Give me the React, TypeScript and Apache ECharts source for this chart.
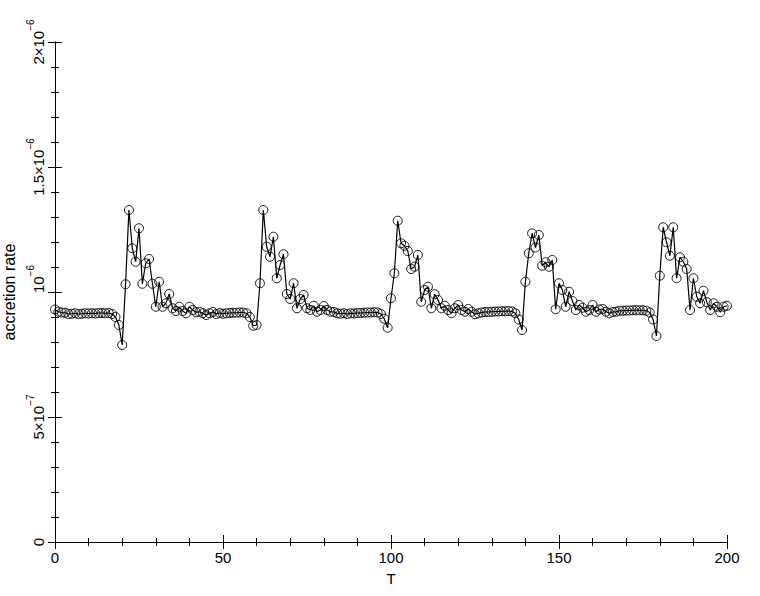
import React, { useEffect, useRef } from "react";
import * as echarts from "echarts";

// accretion rate in units of 1e-6, sampled at T = 0, 1, 2, ... 200
const T_START = 0;
const T_STEP = 1;
const rate: number[] = [
  0.930, 0.921, 0.918, 0.917, 0.912, 0.913, 0.915, 0.912, 0.913, 0.915, 0.914, 0.915, 0.914, 0.916, 0.916, 0.915, 0.916, 0.912, 0.900, 0.868, 0.788,
  1.031, 1.328, 1.175, 1.121, 1.255, 1.033, 1.115, 1.132, 1.033, 0.941, 1.041, 0.941, 0.955, 0.992, 0.935, 0.924, 0.941, 0.924, 0.915, 0.941,
  0.928, 0.919, 0.921, 0.915, 0.908, 0.915, 0.920, 0.912, 0.916, 0.913, 0.915, 0.916, 0.917, 0.917, 0.918, 0.918, 0.915, 0.900, 0.865, 0.868,
  1.035, 1.328, 1.181, 1.141, 1.221, 1.055, 1.108, 1.151, 0.992, 0.972, 1.035, 0.935, 0.972, 0.988, 0.935, 0.928, 0.945, 0.921, 0.928, 0.944,
  0.928, 0.921, 0.920, 0.915, 0.913, 0.915, 0.912, 0.915, 0.914, 0.916, 0.916, 0.917, 0.918, 0.918, 0.919, 0.918, 0.912, 0.893, 0.857, 0.975,
  1.075, 1.285, 1.195, 1.185, 1.164, 1.092, 1.101, 1.148, 0.961, 1.008, 1.021, 0.935, 0.991, 0.968, 0.935, 0.945, 0.928, 0.915, 0.935, 0.948,
  0.928, 0.921, 0.932, 0.921, 0.911, 0.915, 0.918, 0.920, 0.920, 0.921, 0.922, 0.922, 0.923, 0.923, 0.924, 0.922, 0.915, 0.890, 0.848, 1.041,
  1.155, 1.235, 1.178, 1.228, 1.105, 1.119, 1.101, 1.128, 0.931, 1.035, 1.008, 0.941, 1.001, 0.964, 0.928, 0.948, 0.937, 0.921, 0.928, 0.948,
  0.921, 0.930, 0.932, 0.921, 0.915, 0.920, 0.921, 0.925, 0.925, 0.926, 0.926, 0.927, 0.927, 0.927, 0.927, 0.925, 0.918, 0.890, 0.824, 1.065,
  1.259, 1.199, 1.145, 1.259, 1.055, 1.139, 1.121, 1.092, 0.928, 1.055, 0.981, 0.955, 1.005, 0.959, 0.928, 0.955, 0.941, 0.919, 0.941, 0.945,
];

// y tick labels (value in 1e-6 units -> [mantissa, exponent])
const yTickValues = [0, 0.5, 1, 1.5, 2];
const yTickLabels: [string, string][] = [
  ["0", ""],
  ["5×10", "−7"],
  ["10", "−6"],
  ["1.5×10", "−6"],
  ["2×10", "−6"],
];

const FONT = "Liberation Sans, Arial, Helvetica, sans-serif";

export default function App() {
  const ref = useRef<HTMLDivElement>(null);
  useEffect(() => {
    if (!ref.current) return;
    const chart = echarts.init(ref.current, null, { renderer: "svg" });
    const data = rate.map((v, i) => [T_START + i * T_STEP, v]);
    const axisLine = { show: true, lineStyle: { color: "#000", width: 1 } };
    const tickStyle = { color: "#000", width: 1 };
    chart.setOption({
      animation: false,
      backgroundColor: "#fff",
      textStyle: { fontFamily: FONT },
      grid: { left: 55, right: 33, top: 42, bottom: 54, containLabel: false, outerBoundsMode: "none" },
      xAxis: [
        {
          type: "value",
          min: 0,
          max: 200,
          interval: 50,
          position: "bottom",
          name: "T",
          nameLocation: "middle",
          nameGap: 29,
          nameTextStyle: { color: "#000", fontSize: 15, fontFamily: FONT },
          axisLine,
          axisTick: { show: true, inside: true, length: 7, lineStyle: tickStyle },
          minorTick: { show: true, splitNumber: 5, length: 4, lineStyle: tickStyle },
          splitLine: { show: false },
          axisLabel: { color: "#000", fontSize: 15, fontFamily: FONT, margin: 8 },
        },
        {
          type: "value",
          min: 0,
          max: 200,
          interval: 50,
          position: "top",
          axisLine,
          axisTick: { show: true, inside: true, length: 7, lineStyle: tickStyle },
          minorTick: { show: true, splitNumber: 5, length: 4, lineStyle: tickStyle },
          splitLine: { show: false },
          axisLabel: { show: false },
        },
      ],
      yAxis: [
        {
          type: "value",
          min: 0,
          max: 2,
          interval: 0.5,
          position: "left",
          name: "accretion rate",
          nameLocation: "middle",
          nameGap: 37,
          nameTextStyle: { color: "#000", fontSize: 16, fontFamily: FONT },
          axisLine,
          axisTick: { show: true, inside: true, length: 7, lineStyle: tickStyle },
          minorTick: { show: true, splitNumber: 5, length: 4, lineStyle: tickStyle },
          splitLine: { show: false },
          axisLabel: {
            rotate: 90,
            margin: 9,
            color: "#000",
            formatter: (val: number) => {
              const idx = yTickValues.findIndex((t) => Math.abs(t - val) < 1e-9);
              if (idx < 0) return "";
              const [m, e] = yTickLabels[idx];
              if (!e) return `{m|${m}}`;
              return m === "10" ? `{mp|${m}}{s|${e}}` : `{m|${m}}{s|${e}}`;
            },
            rich: {
              m: { fontSize: 15, fontFamily: FONT, color: "#000", lineHeight: 21, verticalAlign: "bottom" },
              mp: { fontSize: 15, fontFamily: FONT, color: "#000", lineHeight: 21, verticalAlign: "bottom", padding: [0, 0, 0, 26] },
              s: { fontSize: 10, fontFamily: FONT, color: "#000", lineHeight: 21, verticalAlign: "top" },
            },
          },
        },
        {
          type: "value",
          min: 0,
          max: 2,
          interval: 0.5,
          position: "right",
          axisLine,
          axisTick: { show: true, inside: true, length: 7, lineStyle: tickStyle },
          minorTick: { show: true, splitNumber: 5, length: 4, lineStyle: tickStyle },
          splitLine: { show: false },
          axisLabel: { show: false },
        },
      ],
      series: [
        {
          type: "line",
          data,
          xAxisIndex: 0,
          yAxisIndex: 0,
          symbol: "circle",
          symbolSize: 9,
          showAllSymbol: true,
          lineStyle: { color: "#000", width: 1.2 },
          itemStyle: { color: "rgba(0,0,0,0)", borderColor: "#000", borderWidth: 0.9 },
        },
      ],
    });
    return () => chart.dispose();
  }, []);
  return (
    <div
      ref={ref}
      style={{ position: "absolute", left: 0, top: 0, width: 760, height: 596, background: "#fff" }}
    />
  );
}
